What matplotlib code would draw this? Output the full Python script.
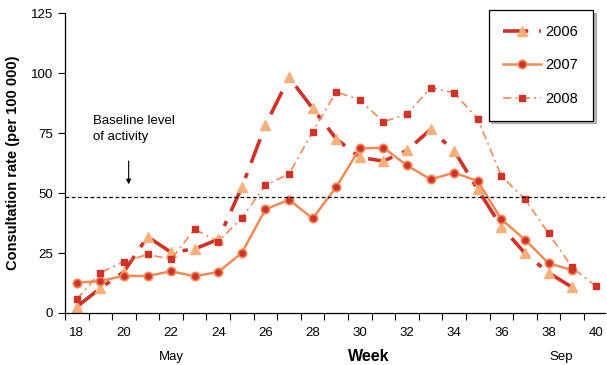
"""
Weekly consultation rates, 2006-2008 seasons.
"""

import matplotlib
matplotlib.use("Agg")
import matplotlib.pyplot as plt
import matplotlib.ticker as tkr

plt.rcParams["font.family"] = ["Liberation Sans", "DejaVu Sans"]

weeks_06 = list(range(18, 40))
rate_06 = [2.6, 10.3, 17.2, 31.8, 25.3, 26.7, 30.7, 52.5, 78.3, 98.2, 85.3,
           72.6, 64.9, 63.3, 67.8, 76.5, 67.6, 51.5, 36.0, 24.9, 16.8, 10.7]
weeks_07 = list(range(18, 40))
rate_07 = [12.6, 13.3, 15.5, 15.4, 17.4, 15.3, 17.1, 25.1, 43.2, 47.2, 39.4,
           52.5, 68.6, 68.9, 61.5, 55.7, 58.5, 55.0, 39.0, 30.6, 20.7, 17.9]
weeks_08 = list(range(18, 41))
rate_08 = [5.7, 16.8, 21.4, 24.4, 22.4, 34.9, 29.7, 39.7, 53.3, 57.9, 75.6,
           92.2, 88.8, 79.7, 82.9, 93.9, 91.8, 80.8, 57.1, 47.4, 33.2, 19.0, 11.2]
baseline = 48.5
y_ticks = [0, 25, 50, 75, 100, 125]
x_labels = list(range(18, 41, 2))

RED = "#cf3328"
ORANGE = "#f28a58"
LIGHT = "#f7b07a"

fig = plt.figure(figsize=(6.07, 3.65), dpi=100)
ax = fig.add_axes([0.107, 0.1425, 0.89, 0.8215])

ax.plot(weeks_06, rate_06, color=RED, lw=2.6, dashes=(7, 3, 1.5, 3),
        marker="^", ms=6.5, mfc=LIGHT, mec=LIGHT, label="2006")
ax.plot(weeks_07, rate_07, color=ORANGE, lw=1.8, marker="o", ms=6,
        mfc=RED, mec=ORANGE, mew=1.2, label="2007")
ax.plot(weeks_08, rate_08, color=ORANGE, lw=1.2, dashes=(5, 2.5, 1.2, 2.5),
        marker="s", ms=3.8, mfc=RED, mec=RED, label="2008")

ax.axhline(baseline, color="black", lw=0.9, ls=(0, (3, 2)))
ax.text(18.7, 71, "Baseline level\nof activity", fontsize=9.5, va="bottom",
        linespacing=1.45)
ax.annotate("", xy=(20.2, 52.5), xytext=(20.2, 64.5),
            arrowprops=dict(arrowstyle="-|>", color="black", lw=0.8,
                            mutation_scale=7))

ax.set_xlim(17.5, 40.4)
ax.set_ylim(0, 125)
ax.set_yticks(y_ticks)
ax.set_xticks(x_labels)
ax.xaxis.set_minor_locator(tkr.FixedLocator([w + 0.5 for w in range(17, 40)]))
ax.tick_params(axis="x", which="major", length=0, pad=10, labelsize=9.5)
ax.tick_params(axis="x", which="minor", length=5, width=0.8, direction="out")
ax.tick_params(axis="y", length=5, width=0.8, labelsize=9.5)
for side in ("top", "right"):
    ax.spines[side].set_visible(False)
for side in ("left", "bottom"):
    ax.spines[side].set_linewidth(0.9)

ax.set_ylabel("Consultation rate (per 100 000)", fontsize=10.5,
              fontweight="bold", labelpad=8)
fig.text(0.607, 0.012, "Week", fontsize=11.5, fontweight="bold", ha="center")
fig.text(0.283, 0.015, "May", fontsize=9.5, ha="center")
fig.text(0.924, 0.015, "Sep", fontsize=9.5, ha="center")

leg = ax.legend(loc="upper right", bbox_to_anchor=(0.977, 1.01),
                fontsize=10.5, frameon=True, fancybox=False,
                shadow={"color": "0.55", "alpha": 0.6, "ox": 2, "oy": -2},
                handlelength=2.6, borderpad=1.0, labelspacing=1.35,
                handletextpad=0.3, borderaxespad=0)
leg.get_frame().set_edgecolor("black")
leg.get_frame().set_linewidth(0.9)

fig.savefig("out.png", dpi=100)
